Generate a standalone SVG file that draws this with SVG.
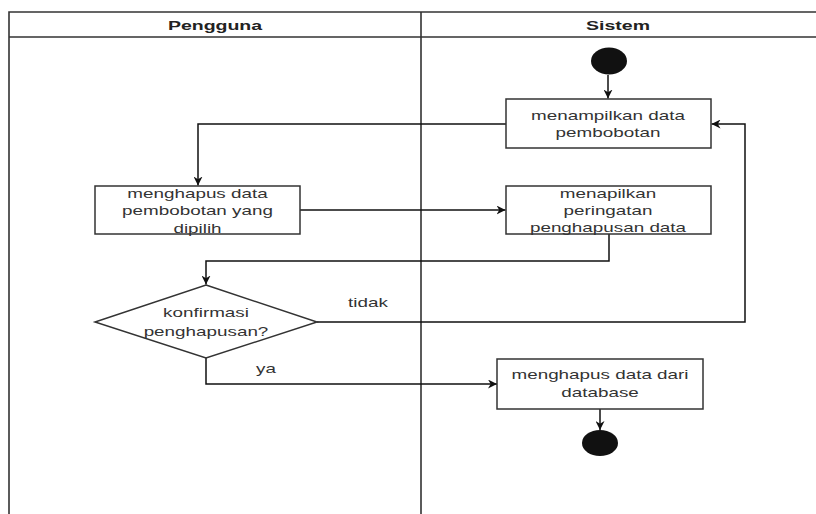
<svg xmlns="http://www.w3.org/2000/svg" width="816" height="514" viewBox="0 0 816 514">
<defs>
<marker id="arr" viewBox="0 0 10 10" refX="10" refY="5" markerWidth="9" markerHeight="9" markerUnits="userSpaceOnUse" orient="auto">
<path d="M0,0 L10,5 L0,10 L3,5 Z" fill="#111"/>
</marker>
</defs>
<style>
.lane{stroke:#333;stroke-width:1.6;fill:none}
.box{fill:#fff;stroke:#333;stroke-width:1.5}
.t{font-family:"Liberation Sans",Arial,sans-serif;font-size:13px;fill:#333;text-anchor:middle}
.h{font-family:"Liberation Sans",Arial,sans-serif;font-size:13px;font-weight:bold;fill:#222;text-anchor:middle}
.c{fill:none;stroke:#111;stroke-width:1.5}
.dot{fill:#111}
</style>
<rect x="0" y="0" width="816" height="514" fill="#fff"/>
<g id="swimlane">
<path class="lane" d="M816,12 H9 V514 M9,37 H816 M421,12 V514"/>
<g transform="translate(215 0) scale(1.5 1)"><text class="h" x="0" y="30">Pengguna</text></g>
<g transform="translate(618 0) scale(1.5 1)"><text class="h" x="0" y="30">Sistem</text></g>
</g>
<g id="connectors">
<path class="c" d="M608,75 V98.5" marker-end="url(#arr)"/>
<path class="c" d="M506,124 H198 V185.5" marker-end="url(#arr)"/>
<path class="c" d="M300,210 H505.5" marker-end="url(#arr)"/>
<path class="c" d="M609,234 V261 H206 V284.5" marker-end="url(#arr)"/>
<path class="c" d="M317,322 H745 V124 H711.5" marker-end="url(#arr)"/>
<path class="c" d="M206,358 V384 H497" marker-end="url(#arr)"/>
<path class="c" d="M600,409 V430" marker-end="url(#arr)"/>
<g transform="translate(368 0) scale(1.45 1)"><text class="t" x="0" y="307">tidak</text></g>
<g transform="translate(266 0) scale(1.45 1)"><text class="t" x="0" y="373">ya</text></g>
</g>
<g id="start"><ellipse class="dot" cx="609" cy="61" rx="18" ry="13.5"/></g>
<g id="tampil">
<rect class="box" x="506" y="99" width="205" height="49"/>
<g transform="translate(608 0) scale(1.45 1)"><text class="t" x="0" y="120.5">menampilkan data</text><text class="t" x="0" y="137">pembobotan</text></g>
</g>
<g id="hapusPilih">
<rect class="box" x="95" y="186" width="205" height="48"/>
<g transform="translate(197.5 0) scale(1.45 1)"><text class="t" x="0" y="198">menghapus data</text><text class="t" x="0" y="215.5">pembobotan yang</text><text class="t" x="0" y="233">dipilih</text></g>
</g>
<g id="peringatan">
<rect class="box" x="506" y="186" width="205" height="48"/>
<g transform="translate(608 0) scale(1.45 1)"><text class="t" x="0" y="198">menapilkan</text><text class="t" x="0" y="215">peringatan</text><text class="t" x="0" y="232.5">penghapusan data</text></g>
</g>
<g id="konfirmasi">
<polygon class="box" points="206,285 317,322 206,358 95,322"/>
<g transform="translate(206 0) scale(1.45 1)"><text class="t" x="0" y="317">konfirmasi</text><text class="t" x="0" y="336">penghapusan?</text></g>
</g>
<g id="hapusDb">
<rect class="box" x="497" y="359" width="206" height="50"/>
<g transform="translate(600 0) scale(1.45 1)"><text class="t" x="0" y="379">menghapus data dari</text><text class="t" x="0" y="397">database</text></g>
</g>
<g id="end"><ellipse class="dot" cx="600" cy="443" rx="18" ry="13"/></g>
</svg>
